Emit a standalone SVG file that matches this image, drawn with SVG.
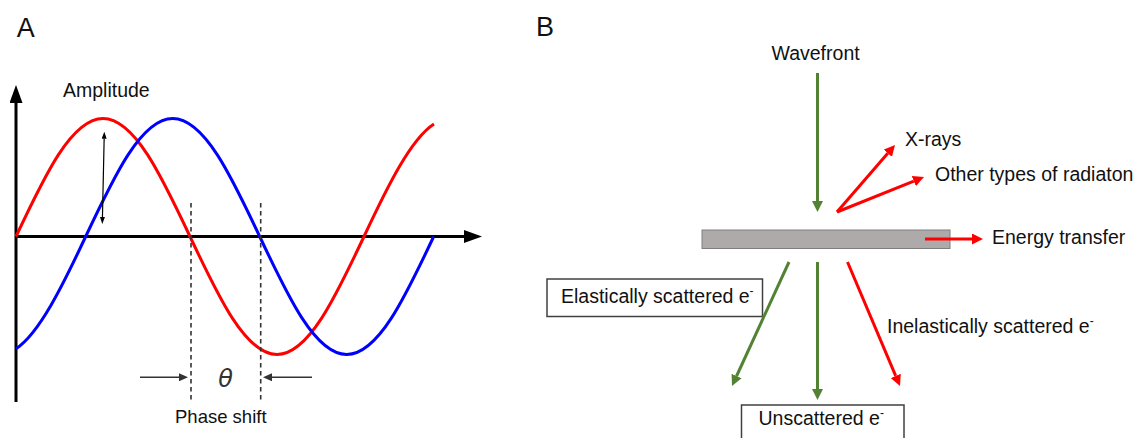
<svg xmlns="http://www.w3.org/2000/svg" width="1146" height="438" viewBox="0 0 1146 438">
<style>
text{font-family:"Liberation Sans",Arial,sans-serif;fill:#111}
.lbl{font-size:19.5px}
.panel{font-size:27px}
.axis{stroke:#000;stroke-width:3;fill:none}
.wave{stroke-width:3;fill:none}
.dash{stroke:#333;stroke-width:1.6;stroke-dasharray:4.5 3.5;fill:none}
.grn{stroke:#548235;stroke-width:3;fill:none}
.red{stroke:#ff0000;stroke-width:3;fill:none}
.box{fill:#fff;stroke:#404040;stroke-width:1.5}
</style>
<defs>
<marker id="mAxis" markerUnits="userSpaceOnUse" markerWidth="18" markerHeight="13" refX="0" refY="6.5" orient="auto"><path d="M0,0 L18,6.5 L0,13 Z" fill="#000"/></marker>
<marker id="mAmp" markerUnits="userSpaceOnUse" markerWidth="7" markerHeight="5" refX="0" refY="2.5" orient="auto-start-reverse"><path d="M0,0 L7,2.5 L0,5 Z" fill="#000"/></marker>
<marker id="mPh" markerUnits="userSpaceOnUse" markerWidth="9" markerHeight="8" refX="0" refY="4" orient="auto"><path d="M0,0 L9,4 L0,8 Z" fill="#333"/></marker>
<marker id="mGrn" markerUnits="userSpaceOnUse" markerWidth="11" markerHeight="11" refX="0" refY="5.5" orient="auto"><path d="M0,0 L11,5.5 L0,11 Z" fill="#548235"/></marker>
<marker id="mRed" markerUnits="userSpaceOnUse" markerWidth="11" markerHeight="11" refX="0" refY="5.5" orient="auto"><path d="M0,0 L11,5.5 L0,11 Z" fill="#ff0000"/></marker>
</defs>

<g id="panelA">
<text class="panel" x="16.7" y="36.7">A</text>
<g id="axes">
<line class="axis" x1="16" y1="402" x2="16" y2="103" marker-end="url(#mAxis)"/>
<line class="axis" x1="16" y1="236.5" x2="464" y2="236.5" marker-end="url(#mAxis)"/>
</g>
<path id="redWave" class="wave" stroke="#ff0000" d="M16,236.5 C44.4,176.1 71.5,118.5 103,118.5 C134.5,118.5 161.6,176.1 190,236.5 C218.4,296.9 245.5,354.5 277,354.5 C308.5,354.5 335.6,296.9 364,236.5 C387.3,186.8 410.7,139 434,124"/>
<path id="blueWave" class="wave" stroke="#0000ff" d="M16,348.7 C39.2,333.4 62.5,286 85.7,236.5 C114.1,176.1 141.2,118.5 172.7,118.5 C204.2,118.5 231.3,176.1 259.7,236.5 C288.1,296.9 315.2,354.5 346.7,354.5 C378.2,354.5 405.3,296.9 433.7,236.5"/>
<g id="amplitude">
<line x1="104.15" y1="138.7" x2="102.45" y2="217" stroke="#000" stroke-width="1.2" marker-start="url(#mAmp)" marker-end="url(#mAmp)"/>
<text class="lbl" x="63" y="97" font-size="20">Amplitude</text>
</g>
<g id="phaseShift">
<line class="dash" x1="191" y1="203" x2="191" y2="402"/>
<line class="dash" x1="260.7" y1="203" x2="260.7" y2="402"/>
<line x1="140" y1="377.3" x2="179" y2="377.3" stroke="#333" stroke-width="1.6" marker-end="url(#mPh)"/>
<line x1="312" y1="377.3" x2="272" y2="377.3" stroke="#333" stroke-width="1.6" marker-end="url(#mPh)"/>
<text x="225.5" y="387" text-anchor="middle" style="font-family:'DejaVu Sans',sans-serif;font-size:24px;font-style:italic;fill:#333">θ</text>
<text x="175" y="422.7" style="font-size:18.5px">Phase shift</text>
</g>
</g>

<g id="panelB">
<text class="panel" x="536" y="35.7">B</text>
<g id="sample"><rect x="702" y="230" width="248" height="18.5" fill="#aeaaaa" stroke="#7f7f7f" stroke-width="1"/></g>
<g id="wavefront"><text class="lbl" x="771.5" y="60">Wavefront</text></g>
<g id="xrays"><text class="lbl" x="905" y="146">X-rays</text></g>
<g id="otherRad"><text class="lbl" x="935" y="181">Other types of radiaton</text></g>
<g id="energy"><text class="lbl" x="992" y="243.5">Energy transfer</text></g>
<g id="elastic"><rect class="box" x="547" y="279" width="215.5" height="37.5"/><text class="lbl" x="561" y="303">Elastically scattered e<tspan font-size="12" dy="-8">-</tspan></text></g>
<g id="inelastic"><text class="lbl" x="887" y="333.3">Inelastically scattered e<tspan font-size="12" dy="-8">-</tspan></text></g>
<g id="unscattered"><rect class="box" x="741.5" y="405" width="162.5" height="45"/><text class="lbl" x="758.5" y="425">Unscattered e<tspan font-size="12" dy="-8">-</tspan></text></g>
<g id="connectors">
<line class="grn" x1="817.5" y1="73" x2="817.5" y2="201" marker-end="url(#mGrn)"/>
<line class="red" x1="837" y1="212" x2="887.8" y2="153.3" marker-end="url(#mRed)"/>
<line class="red" x1="837" y1="212" x2="913.8" y2="181.1" marker-end="url(#mRed)"/>
<line class="red" x1="925" y1="239" x2="972" y2="239" marker-end="url(#mRed)"/>
<line class="grn" x1="789" y1="262" x2="736.6" y2="376" marker-end="url(#mGrn)"/>
<line class="grn" x1="817.5" y1="262" x2="817.5" y2="389" marker-end="url(#mGrn)"/>
<line class="red" x1="847.5" y1="262" x2="895.7" y2="375.9" marker-end="url(#mRed)"/>
</g>
</g>
</svg>
